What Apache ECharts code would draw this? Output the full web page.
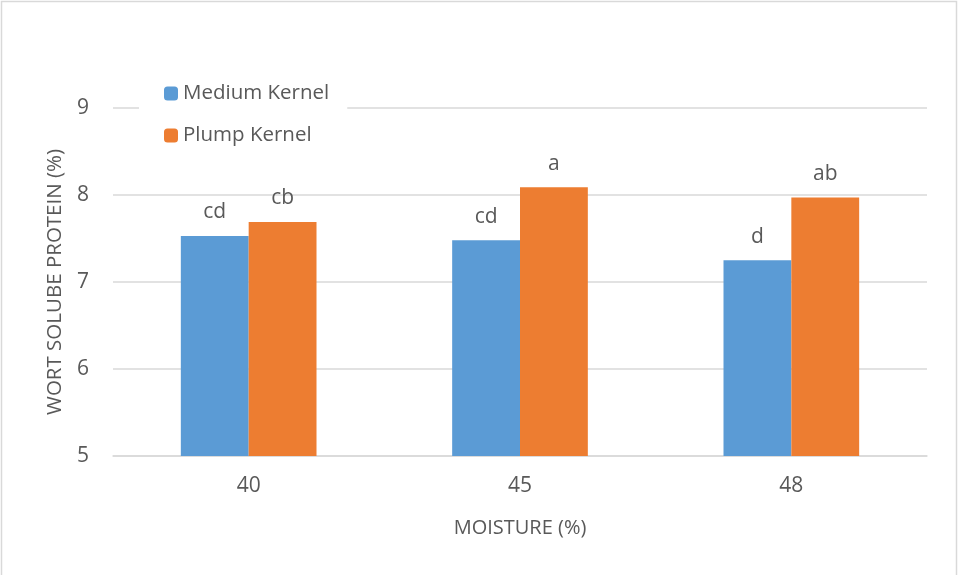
<!DOCTYPE html>
<html>
<head>
<meta charset="utf-8">
<script src="https://cdn.jsdelivr.net/npm/echarts@6/dist/echarts.min.js"></script>
<style>
  html, body { margin: 0; padding: 0; background: #fff; }
  #chart { width: 959px; height: 575px; }
</style>
</head>
<body>
<div id="chart"></div>
<script>
// Moisture levels on the x axis
const moisture = ['40', '45', '48'];
// Wort soluble protein (%) per kernel size
const mediumKernel = [7.53, 7.48, 7.25];
const plumpKernel = [7.69, 8.09, 7.97];
// Significance letters shown above each bar
const mediumLetters = ['cd', 'cd', 'd'];
const plumpLetters = ['cb', 'a', 'ab'];

const textColor = '#595959';
const fontFamily = '"Open Sans", Lato, sans-serif';

const chart = echarts.init(document.getElementById('chart'));

function letterLabel(letters) {
  return {
    show: true,
    position: 'top',
    distance: 13,
    color: textColor,
    fontSize: 21,
    fontFamily: fontFamily,
    formatter: p => letters[p.dataIndex]
  };
}

chart.setOption({
  animation: false,
  textStyle: { fontFamily: fontFamily, color: textColor },
  graphic: [{
    type: 'rect',
    shape: { x: 1.5, y: 1.5, width: 955, height: 580 },
    style: { fill: 'none', stroke: '#d9d9d9', lineWidth: 1.5 },
    silent: true,
    z: -10
  }],
  legend: {
    orient: 'vertical',
    left: 139,
    top: 79,
    padding: [4, 18, 4, 25],
    itemWidth: 14,
    itemHeight: 14,
    itemGap: 21,
    backgroundColor: '#fff',
    textStyle: { color: textColor, fontSize: 20.5, fontFamily: fontFamily },
    data: ['Medium Kernel', 'Plump Kernel']
  },
  grid: { left: 113, right: 32, top: 108, bottom: 119 },
  xAxis: {
    type: 'category',
    data: moisture,
    name: 'MOISTURE (%)',
    nameLocation: 'middle',
    nameGap: 62,
    nameTextStyle: { color: textColor, fontSize: 20, fontFamily: fontFamily },
    axisLine: { lineStyle: { color: '#d9d9d9', width: 1.5 } },
    axisTick: { show: false },
    axisLabel: { color: textColor, fontSize: 21, margin: 20, fontFamily: fontFamily }
  },
  yAxis: {
    type: 'value',
    min: 5,
    max: 9,
    interval: 1,
    name: 'WORT SOLUBE PROTEIN (%)',
    nameLocation: 'middle',
    nameGap: 45,
    nameRotate: 90,
    nameTextStyle: { color: textColor, fontSize: 20.5, fontFamily: fontFamily },
    axisLine: { show: false },
    axisTick: { show: false },
    axisLabel: { color: textColor, fontSize: 21, margin: 24, fontFamily: fontFamily },
    splitLine: { lineStyle: { color: '#d9d9d9', width: 1.5 } }
  },
  series: [
    {
      name: 'Medium Kernel',
      type: 'bar',
      data: mediumKernel,
      barGap: '0%',
      barCategoryGap: '50%',
      itemStyle: { color: '#5b9bd5' },
      label: letterLabel(mediumLetters)
    },
    {
      name: 'Plump Kernel',
      type: 'bar',
      data: plumpKernel,
      itemStyle: { color: '#ed7d31' },
      label: letterLabel(plumpLetters)
    }
  ]
});
</script>
</body>
</html>
